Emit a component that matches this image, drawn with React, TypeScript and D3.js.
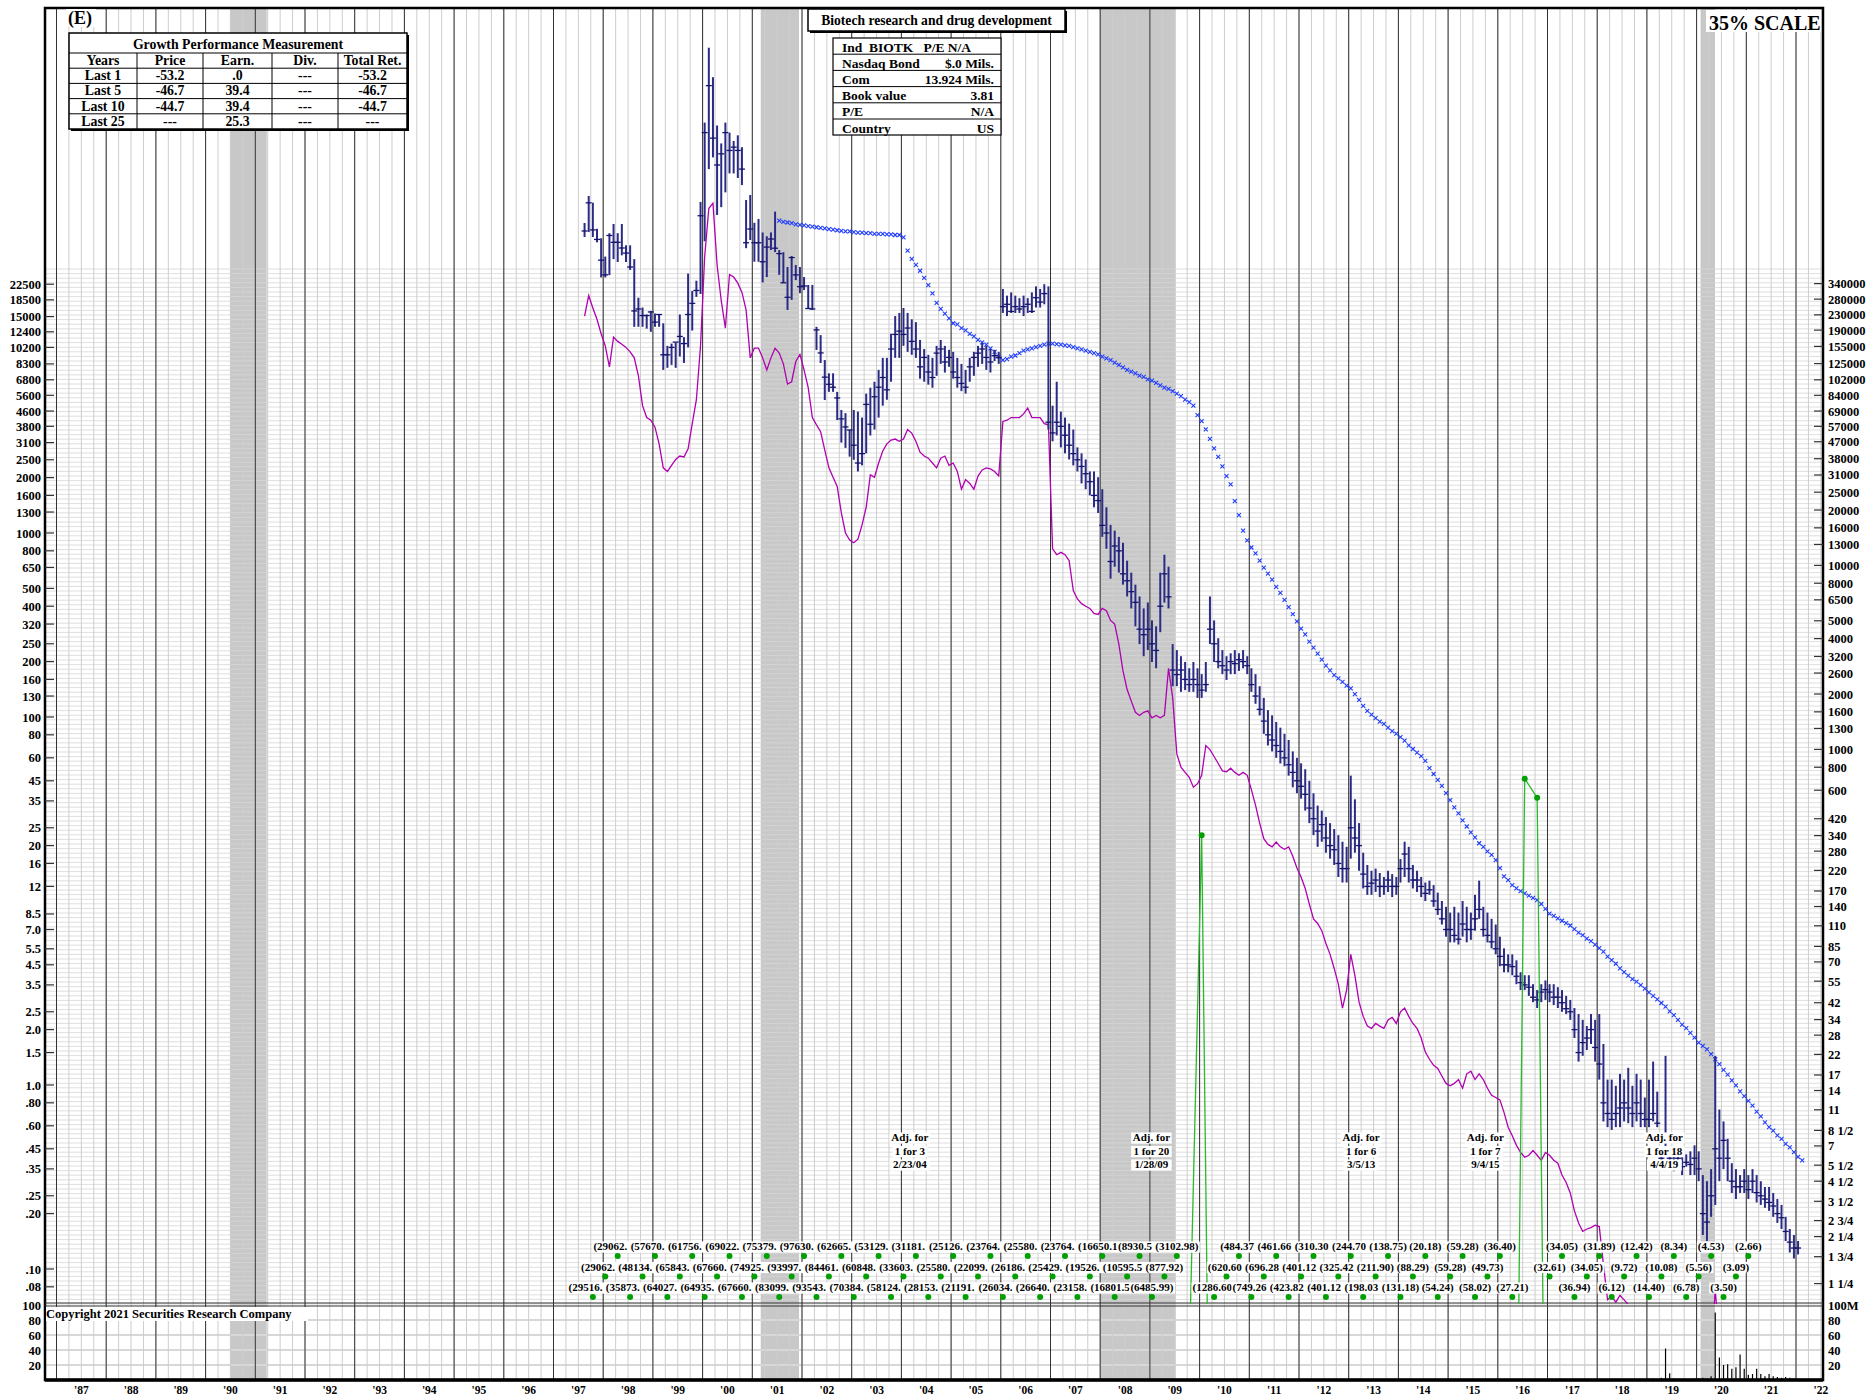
import * as d3 from "d3";

const W = 1870;
const H = 1396;
const FONT = "'Liberation Serif','Times New Roman',Times,serif";

// ---------- axis / label data ----------
const yearLabels = ["'87", "'88", "'89", "'90", "'91", "'92", "'93", "'94", "'95", "'96", "'97", "'98", "'99", "'00", "'01", "'02", "'03", "'04", "'05", "'06", "'07", "'08", "'09", "'10", "'11", "'12", "'13", "'14", "'15", "'16", "'17", "'18", "'19", "'20", "'21", "'22"];
const leftTicks = [22500, 18500, 15000, 12400, 10200, 8300, 6800, 5600, 4600, 3800, 3100, 2500, 2000, 1600, 1300, 1000, 800, 650, 500, 400, 320, 250, 200, 160, 130, 100, 80, 60, 45, 35, 25, 20, 16, 12, 8.5, 7.0, 5.5, 4.5, 3.5, 2.5, 2.0, 1.5, 1.0, 0.8, 0.6, 0.45, 0.35, 0.25, 0.2, 0.1, 0.08];
const leftTickLabels = ["22500", "18500", "15000", "12400", "10200", "8300", "6800", "5600", "4600", "3800", "3100", "2500", "2000", "1600", "1300", "1000", "800", "650", "500", "400", "320", "250", "200", "160", "130", "100", "80", "60", "45", "35", "25", "20", "16", "12", "8.5", "7.0", "5.5", "4.5", "3.5", "2.5", "2.0", "1.5", "1.0", ".80", ".60", ".45", ".35", ".25", ".20", ".10", ".08"];
const rightTicks = [340000, 280000, 230000, 190000, 155000, 125000, 102000, 84000, 69000, 57000, 47000, 38000, 31000, 25000, 20000, 16000, 13000, 10000, 8000, 6500, 5000, 4000, 3200, 2600, 2000, 1600, 1300, 1000, 800, 600, 420, 340, 280, 220, 170, 140, 110, 85, 70, 55, 42, 34, 28, 22, 17, 14, 11, 8.5, 7, 5.5, 4.5, 3.5, 2.75, 2.25, 1.75, 1.25];
const rightTickLabels = ["340000", "280000", "230000", "190000", "155000", "125000", "102000", "84000", "69000", "57000", "47000", "38000", "31000", "25000", "20000", "16000", "13000", "10000", "8000", "6500", "5000", "4000", "3200", "2600", "2000", "1600", "1300", "1000", "800", "600", "420", "340", "280", "220", "170", "140", "110", "85", "70", "55", "42", "34", "28", "22", "17", "14", "11", "8 1/2", "7", "5 1/2", "4 1/2", "3 1/2", "2 3/4", "2 1/4", "1 3/4", "1 1/4"];
const rightScaleRatio = 15;
const volTicks = [100, 80, 60, 40, 20];
const recessions = [[1990.49, 1991.23], [2001.17, 2001.94], [2007.99, 2009.52], [2020.08, 2020.37]];

// ---------- monthly price bars, Aug 1997 .. Jan 2022 ----------
const priceStart = [1997, 7];
const priceHigh = [
  48400, 67900, 62400, 45000, 40000,
  31800, 42600, 47800, 42600, 47800, 36600, 36600, 30800, 19000, 16800, 15400, 16100,
  15600, 15400, 13800, 10400, 10700, 10800, 15400, 11600, 25700, 20700, 23500, 63000,
  170000, 434000, 300000, 164000, 131000, 170000, 150000, 135000, 145000, 125000, 64500, 68700,
  48500, 50900, 43000, 41000, 43000, 55800, 34500, 33600, 27900, 32000, 28600, 27900,
  24600, 22300, 22300, 13200, 11900, 8710, 7380, 7380, 5850, 4660, 4480, 3630,
  4660, 4570, 4240, 5720, 6160, 6640, 7700, 8950, 8950, 12100, 15100, 15700,
  16700, 15700, 14500, 14000, 11200, 10000, 9300, 8950, 10400, 11200, 10400, 9900,
  9650, 8950, 8300, 7700, 8950, 9650, 10400, 10800, 10400, 10000, 9900, 9650,
  21200, 19500, 20300, 19500, 18900, 19500, 18900, 20300, 21900, 21200, 22500, 21900,
  4920, 6640, 4570, 4240, 3930, 3650, 2920, 2710, 2510, 2160, 2160, 2010,
  1730, 1380, 1107, 1030, 953, 885, 707, 609, 524, 452, 389, 419,
  335, 311, 609, 762, 656, 249, 231, 214, 199, 184, 199, 184,
  171, 199, 452, 335, 268, 231, 214, 222, 231, 222, 231, 214,
  184, 171, 147, 127, 109, 102, 94, 87.5, 81, 75, 65, 60,
  56, 52, 45, 38.5, 33, 31, 28.6, 26.5, 24.6, 22.8, 21, 19.7,
  48, 35.7, 26.5, 18.3, 15.7, 14.6, 15, 14.2, 13.5, 14.6, 14, 13.5,
  16.9, 21, 19.7, 15.7, 14.6, 13.5, 12.6, 12.9, 12.2, 11.1, 10, 9.3,
  8.65, 9.3, 8.65, 10, 9.3, 8.65, 10.8, 12.9, 9.3, 8.65, 8, 7.45,
  6.4, 5.53, 5.13, 5.13, 4.76, 4.1, 3.95, 3.95, 3.53, 3.28, 3.53, 3.7,
  3.53, 3.53, 3.4, 3.28, 3.05, 2.9, 2.62, 2.43, 2.26, 2.09, 2.43, 2.26,
  2.43, 1.67, 1.07, 1.07, 0.99, 1.15, 1.07, 1.24, 0.99, 1.15, 1.07, 0.855,
  1.07, 1.34, 0.92, 0.436, 1.44, 0.436, 0.42, 0.436, 0.405, 0.42, 0.436, 0.47,
  0.436, 0.324, 0.3, 0.349, 1.44, 0.736, 0.634, 0.51, 0.376, 0.349, 0.324, 0.349,
  0.324, 0.349, 0.324, 0.3, 0.279, 0.279, 0.259, 0.24, 0.223, 0.192, 0.165, 0.153,
  0.142,
];
const priceLow = [
  40600, 43200, 40600, 38000, 24500,
  24500, 25200, 30800, 29700, 32300, 29700, 26900, 13200, 13200, 13200, 12900, 12400,
  13200, 13200, 7700, 7900, 8200, 7900, 9100, 8400, 10200, 12600, 19200, 19900,
  38500, 95000, 110000, 53500, 59000, 71000, 90000, 90000, 85000, 77800, 35300, 39100,
  29800, 29800, 23000, 24600, 34500, 33600, 25300, 22900, 16300, 18500, 23700, 20100,
  20900, 16600, 16300, 9880, 8390, 5280, 5850, 5850, 4110, 3100, 2900, 2600,
  2500, 2160, 2330, 2710, 3390, 3650, 4240, 4920, 5300, 6640, 8950, 8950,
  10400, 9650, 9300, 8950, 6900, 6640, 6400, 6160, 7150, 8300, 7450, 8000,
  6900, 6160, 5900, 5720, 6640, 7150, 8000, 8300, 7700, 7450, 8600, 8300,
  15700, 15100, 15700, 15700, 15700, 15100, 15700, 15700, 16800, 16800, 17500, 3650,
  3150, 3390, 2920, 2710, 2510, 2330, 2160, 1860, 1730, 1600, 1380, 1285,
  953, 821, 565, 656, 609, 524, 452, 389, 311, 249, 214, 231,
  199, 184, 289, 419, 389, 147, 147, 137, 140, 137, 137, 127,
  127, 137, 249, 199, 184, 171, 159, 171, 171, 178, 184, 171,
  137, 118, 102, 81, 70, 65, 60, 55.9, 54, 48, 41.5, 38.5,
  36, 31, 26.5, 22.8, 19.7, 21, 18.3, 17, 15.7, 13.5, 12.6, 12.6,
  17, 18.3, 14.6, 11.7, 10.8, 10.8, 11.2, 10.5, 10.8, 11.2, 10.5, 10.8,
  12.6, 13.5, 12.6, 11.7, 11.2, 10.5, 10, 10.8, 9.3, 8.4, 7.45, 6.4,
  5.96, 5.96, 5.8, 6.4, 5.96, 6.15, 6.9, 8, 6.4, 5.96, 5.53, 5.13,
  4.42, 4.1, 4.1, 3.95, 3.53, 3.28, 3.28, 3.05, 2.82, 2.62, 2.82, 2.9,
  2.82, 2.72, 2.62, 2.5, 2.43, 2.26, 1.8, 1.34, 1.44, 1.55, 1.67, 1.34,
  1.07, 0.634, 0.59, 0.57, 0.59, 0.59, 0.634, 0.62, 0.59, 0.634, 0.59, 0.59,
  0.59, 0.634, 0.59, 0.376, 0.436, 0.349, 0.34, 0.349, 0.324, 0.36, 0.324, 0.324,
  0.3, 0.153, 0.142, 0.192, 0.223, 0.3, 0.349, 0.3, 0.259, 0.24, 0.259, 0.259,
  0.24, 0.259, 0.23, 0.223, 0.215, 0.207, 0.192, 0.178, 0.165, 0.142, 0.123, 0.114,
  0.12,
];
const priceClose = [
  43800, 62300, 44400, 39400, 30400,
  25300, 41400, 38000, 38000, 35400, 33200, 27900, 16100, 16500, 15200, 15200, 15900,
  14000, 15400, 9300, 9300, 10200, 10900, 11700, 10700, 15400, 17700, 20800, 53000,
  150000, 270000, 140000, 100000, 115000, 150000, 120000, 125000, 120000, 95000, 37800, 44900,
  37800, 37800, 29800, 35800, 39600, 35300, 33000, 22900, 19100, 31400, 25300, 21800,
  22000, 16600, 16500, 12700, 9520, 7030, 6430, 6200, 5420, 4170, 3770, 3630,
  3000, 2400, 2700, 5000, 3900, 5500, 6200, 7000, 6000, 10000, 12000, 12500,
  12000, 13000, 11000, 10000, 8000, 9000, 7500, 7000, 9500, 10000, 8500, 9000,
  7500, 7000, 6500, 6200, 8000, 9000, 9500, 10000, 9000, 8500, 9200, 9000,
  17000, 17500, 16000, 17000, 16500, 17000, 17500, 16000, 19000, 18000, 20000, 4000,
  3500, 4000, 3800, 3400, 3000, 2700, 2500, 2300, 2100, 1900, 1600, 1500,
  1100, 1000, 700, 850, 800, 600, 550, 480, 420, 300, 280, 300,
  250, 230, 400, 600, 450, 180, 170, 180, 160, 150, 160, 150,
  140, 150, 300, 250, 200, 190, 180, 200, 195, 205, 200, 190,
  150, 130, 110, 95, 80, 75, 70, 65, 60, 55, 50, 45,
  42, 38, 32, 28, 24, 26, 22, 20, 19, 16, 15, 15,
  25, 22, 20, 14, 12, 12.5, 13, 12, 12, 13, 12, 12,
  15, 18, 15, 13, 13, 12, 11, 11.5, 10, 9, 8, 7,
  7, 6.5, 6.2, 7.5, 7, 7, 8, 9, 7, 6.5, 6, 5.5,
  5, 4.5, 4.5, 4.4, 3.9, 3.6, 3.5, 3.4, 3, 2.9, 3.2, 3.3,
  3.2, 3, 3, 2.8, 2.6, 2.5, 2, 1.5, 1.7, 1.8, 2, 1.6,
  1.3, 0.8, 0.7, 0.65, 0.7, 0.75, 0.8, 0.75, 0.7, 0.8, 0.7, 0.65,
  0.65, 0.7, 0.62, 0.4, 0.5, 0.4, 0.38, 0.4, 0.36, 0.38, 0.37, 0.4,
  0.35, 0.2, 0.18, 0.25, 0.45, 0.4, 0.5, 0.4, 0.3, 0.28, 0.28, 0.3,
  0.27, 0.3, 0.26, 0.25, 0.24, 0.23, 0.22, 0.2, 0.19, 0.16, 0.14, 0.13,
  0.13,
];

// ---------- relative strength (magenta), monthly from Aug 1997 ----------
const rsStart = [1997, 7];
const relStrength = [
  15100, 19500, 16700, 14500, 12100,
  10400, 8000, 11600, 11000, 10600, 10200, 9650, 8950, 7150, 4920, 4240, 4100,
  3760, 3050, 2260, 2160, 2330, 2510, 2620, 2590, 2870, 3930, 5300, 10400,
  31800, 58000, 62000, 28600, 18300, 13000, 25400, 24600, 22800, 20300, 16300, 8950,
  10100, 10100, 8950, 7700, 8950, 10100, 9500, 8300, 6450, 6640, 8550, 9350,
  7700, 6160, 4240, 3870, 3550, 2820, 2260, 2010, 1790, 1285, 1000, 915,
  885, 925, 1107, 1380, 2070, 2010, 2400, 2790, 3050, 3200, 3240, 3150,
  3240, 3650, 3490, 3150, 2750, 2620, 2550, 2400, 2260, 2550, 2620, 2330,
  2400, 2160, 1730, 1950, 1860, 1730, 2040, 2200, 2260, 2230, 2160, 2040,
  4040, 4100, 4240, 4240, 4240, 4440, 4780, 4240, 4240, 4240, 3930, 3870,
  821, 762, 785, 762, 707, 486, 438, 413, 400, 389, 366, 361,
  389, 378, 335, 320, 249, 178, 141, 122, 106, 102, 106, 108,
  99, 102, 99, 102, 184, 127, 63, 53.4, 50, 47, 41.5, 43.4,
  48.2, 70, 66.5, 61, 55.9, 51, 50.4, 52.7, 50, 48.2, 50, 48.2,
  40.3, 33.2, 26.5, 21.8, 20.3, 19.7, 20.9, 19.7, 19.1, 19.7, 17.5, 15.1,
  13.5, 11.7, 9.6, 8.0, 7.55, 6.9, 5.88, 5.13, 4.3, 3.53, 2.62, 3.28,
  5.13, 3.93, 2.82, 2.36, 2.09, 2.03, 2.16, 2.09, 2.03, 2.26, 2.33, 2.16,
  2.5, 2.62, 2.36, 2.16, 2.03, 1.8, 1.51, 1.38, 1.28, 1.23, 1.12, 1.02,
  0.99, 1.02, 1.07, 0.96, 1.15, 1.19, 1.07, 1.15, 1.07, 0.96, 0.88, 0.855,
  0.83, 0.71, 0.59, 0.53, 0.47, 0.43, 0.405, 0.415, 0.44, 0.415, 0.39, 0.43,
  0.415, 0.39, 0.376, 0.324, 0.295, 0.259, 0.207, 0.178, 0.16, 0.165, 0.168, 0.173,
  0.17, 0.106, 0.068, 0.071, 0.066, 0.072, 0.068, 0.064, 0.051, 0.041, 0.038, 0.037,
  0.037, 0.036, 0.036, 0.035, 0.036, 0.035, 0.035, 0.034, 0.034, 0.034, 0.033, 0.033,
  0.033, 0.033, 0.032, 0.034, 0.077, 0.041,
];

// ---------- blue "x" series, monthly from Jul 2001 ----------
const blueStart = [2001, 6];
const blueX = [
  49800, 49070, 48700, 48340, 47620, 47270,
  46920, 46570, 46220, 45880, 45540, 45200, 44860, 44530, 44200, 43870, 43540, 43540,
  43220, 42900, 42900, 42580, 42580, 42270, 42270, 42270, 41950, 41950, 41640, 41640,
  40410, 34290, 30900, 28680, 26620, 24330, 22250, 20040, 17790, 16510, 15550, 14650,
  13800, 13600, 13000, 12620, 12070, 11710, 11200, 10870, 10550, 10090, 9640, 9090,
  8690, 8820, 9090, 9220, 9500, 9790, 9940, 10090, 10240, 10390, 10550, 10710,
  10710, 10630, 10550, 10470, 10390, 10240, 10090, 9940, 9790, 9640, 9500, 9360,
  9090, 8890, 8690, 8430, 8190, 7950, 7710, 7540, 7380, 7160, 7050, 6840,
  6740, 6540, 6350, 6170, 6070, 5900, 5720, 5550, 5310, 5150, 4930, 4370,
  4060, 3660, 3250, 2880, 2590, 2300, 2040, 1840, 1490, 1250, 1030, 913,
  834, 774, 708, 648, 601, 558, 510, 473, 433, 396, 362, 331,
  302, 281, 257, 238, 221, 205, 190, 179, 169, 162, 155, 148,
  143, 133, 124, 115, 108, 103, 98.7, 94.4, 91.7, 87.6, 83.8, 81.3,
  77.8, 74.4, 70.1, 67.0, 64.1, 61.3, 57.7, 52.8, 49.0, 45.5, 42.2, 38.6,
  35.3, 32.3, 29.9, 27.4, 25.4, 23.6, 22.2, 20.6, 19.7, 18.6, 17.8, 16.7,
  15.1, 13.6, 13.0, 12.2, 11.7, 11.3, 11.0, 10.7, 10.4, 10.1, 9.63, 9.07,
  8.54, 8.29, 8.05, 7.81, 7.58, 7.36, 7.04, 6.73, 6.53, 6.25, 6.06, 5.80,
  5.54, 5.30, 4.99, 4.77, 4.56, 4.30, 4.11, 3.93, 3.76, 3.65, 3.49, 3.34,
  3.19, 3.05, 2.92, 2.79, 2.67, 2.51, 2.40, 2.26, 2.13, 2.04, 1.92, 1.81,
  1.70, 1.63, 1.56, 1.47, 1.38, 1.30, 1.21, 1.14, 1.06, 0.996, 0.924, 0.871,
  0.820, 0.773, 0.717, 0.676, 0.627, 0.591, 0.565, 0.532, 0.509, 0.479, 0.458, 0.432,
  0.407, 0.389,
];

// ---------- volume (millions), monthly from Jan 2018 ----------
const volStart = [2018, 0];
const volume = [
  0.5, 1, 0.5, 0.5, 1.5, 0.5, 0.5, 0.5, 0.5, 0.5, 0.5, 1,
  1, 2, 1, 3, 42, 9, 2, 1, 1, 1, 1, 2,
  2, 3, 2, 5, 90, 30, 20, 21, 15, 17, 34, 15,
  7, 8, 15, 8, 5, 8, 5, 4, 3, 4, 3, 2,
];

// ---------- quarterly earnings: negative = loss shown in parentheses, null = none ----------
const epsStart = 1997.75;
const epsValues: (number | null)[] = [
  -29516.38, -29062.16, -29062.41, -35873.52, -48134.07, -57670.23, -64027.15, -65843.29, -61756.44,
  -64935.61, -67660.12, -69022.48, -67660.12, -74925.33, -75379.71, -83099.24, -93997.46, -97630.58,
  -93543.19, -84461.37, -62665.92, -70384.71, -60848.26, -53129.64, -58124.83, -33603.55, -31181.47,
  -28153.36, -25580.21, -25126.59, -21191.84, -22099.63, -23764.32, -26034.77, -26186.45, -25580.21,
  -26640.18, -25429.67, -23764.32, -23158.94, -19526.28, -16650.1, -16801.5, -10595.5, -8930.5,
  -6485.99, -877.92, -3102.98,
  null, 22.8,
  -1286.6, -620.6, -484.37, -749.26, -696.28, -461.66, -423.82, -401.12, -310.3, -401.12, -325.42,
  -244.7, -198.03, -211.9, -138.75, -131.18, -88.29, -20.18, -54.24, -59.28, -59.28, -58.02, -49.73,
  -36.4, -27.21,
  46.2, 36.4,
  -32.61, -34.05, -36.94, -34.05, -31.89, -6.12, -9.72, -12.42, -14.4, -10.08, -8.34, -6.78, -5.56,
  -4.53, -3.5, -3.09, -2.66,
];

// ---------- text blocks ----------
const growthHeader = ["Years", "Price", "Earn.", "Div.", "Total Ret."];
const growthRows = [
  ["Last 1", "-53.2", ".0", "---", "-53.2"],
  ["Last 5", "-46.7", "39.4", "---", "-46.7"],
  ["Last 10", "-44.7", "39.4", "---", "-44.7"],
  ["Last 25", "---", "25.3", "---", "---"],
];
const infoRows = [
  ["Ind  BIOTK   P/E N/A", ""],
  ["Nasdaq Bond", "$.0 Mils."],
  ["Com", "13.924 Mils."],
  ["Book value", "3.81"],
  ["P/E", "N/A"],
  ["Country", "US"],
];
const splitNotes = [
  { date: 2004.17, lines: ["Adj. for", "1 for 3", "2/23/04"] },
  { date: 2009.03, lines: ["Adj. for", "1 for 20", "1/28/09"] },
  { date: 2013.25, lines: ["Adj. for", "1 for 6", "3/5/13"] },
  { date: 2015.75, lines: ["Adj. for", "1 for 7", "9/4/15"] },
  { date: 2019.35, lines: ["Adj. for", "1 for 18", "4/4/19"] },
];

// ---------- geometry ----------
const L = 45, R = 1823, T = 8, PB = 1304, VB = 1380;
const x = d3.scaleLinear().domain([1987, 2022]).range([56.5, 1796]);
const y = d3.scaleLog().domain([1, 100000]).range([1085, 165]);
const yv = d3.scaleLinear().domain([0, 100]).range([VB, 1305]);
const monthDate = (start: number[], i: number) => start[0] + (start[1] + i + 0.5) / 12;

// bold Times advance widths (em)
const charW = (c: string) => ("()".includes(c) ? 0.333 : c === "." ? 0.25 : c === " " ? 0.25 : 0.5);
const textW = (s: string, size: number) => s.split("").reduce((a, c) => a + charW(c), 0) * size;

function TextBox({ x0, y0, text, size = 11 }: any) {
  const w = textW(text, size) + 2;
  return (
    <g>
      <rect x={x0 - w / 2} y={y0 - size * 0.78} width={w} height={size * 1.02} fill="#fff" />
      <text x={x0} y={y0} textAnchor="middle" fontSize={size} fontWeight="bold" fontFamily={FONT}>{text}</text>
    </g>
  );
}

export default function App() {
  const gridTop = 265;
  const hLines: number[] = [];
  for (let v = Math.log10(y.invert(PB)); v <= Math.log10(y.invert(gridTop)); v += 0.025) hLines.push(y(Math.pow(10, v)));

  const quarters: number[] = [];
  for (let q = 1987; q <= 2022.5; q += 0.25) quarters.push(q);
  const years = d3.range(1987, 2023);

  const rsLine = d3.line<number>().x((_, i) => x(monthDate(rsStart, i))).y((d) => y(d))(relStrength) || "";

  // earnings: losses sit far below the panel, so the joining segments show as near-vertical lines
  const epsPts = epsValues
    .map((v, i) => ({ v, q: epsStart + i * 0.25 }))
    .filter((d) => d.v !== null) as { v: number; q: number }[];
  const farBelow = 1883;
  const ex = (q: number) => x(q + 1 / 24);
  const epsLine = d3.line<{ v: number; q: number }>()
    .x((d) => ex(d.q))
    .y((d) => (d.v > 0 ? y(d.v) : farBelow))(epsPts) || "";
  const losses = epsPts.filter((d) => d.v < 0);
  const gains = epsPts.filter((d) => d.v > 0);
  const rowY = [1246, 1266.5, 1287];
  const labSize = 11;
  const lossLabels = losses.map((d, i) => {
    const row = [2, 1, 0][i % 3];
    const text = `(${Math.abs(d.v).toFixed(2)})`;
    const w = textW(text, labSize);
    return { row, text, w, start: ex(d.q) - w / 2, q: d.q, shown: text, boxW: w + 1.5 };
  });
  // each label is cut where the next label of the same row begins
  lossLabels.forEach((lab, i) => {
    const next = lossLabels.slice(i + 1).find((o) => o.row === lab.row);
    if (next && next.start < lab.start + lab.w) {
      const room = next.start - lab.start;
      let shown = lab.text;
      while (shown.length > 1 && textW(shown, labSize) > room - 0.5) shown = shown.slice(0, -1);
      lab.shown = shown;
      lab.boxW = room;
    }
  });

  return (
    <svg width={W} height={H} style={{ position: "absolute", left: 0, top: 0, background: "#fff" }} fontFamily={FONT}>
      <defs>
        <clipPath id="pc"><rect x={L} y={T} width={R - L} height={PB - T} /></clipPath>
      </defs>
      <rect width={W} height={H} fill="#fff" />

      {/* recession shading */}
      {recessions.map(([a, b], i) => (
        <rect key={i} x={x(a)} y={T} width={x(b) - x(a)} height={VB - T} fill="#c8c8c8" />
      ))}

      {/* price grid */}
      {hLines.map((yy, i) => (
        <line key={i} x1={L} x2={R} y1={yy} y2={yy} stroke="#d6d6d6" strokeWidth={0.8} />
      ))}
      {/* volume grid */}
      {[20, 40, 60, 80].map((v) => (
        <line key={v} x1={L} x2={R} y1={yv(v)} y2={yv(v)} stroke="#d8d8d8" strokeWidth={2} />
      ))}
      {quarters.map((q, i) => (
        <line key={i} x1={x(q)} x2={x(q)} y1={T} y2={VB} stroke="#cdcdcd" strokeWidth={1} />
      ))}
      {years.map((yr) => (
        <line key={yr} x1={x(yr)} x2={x(yr)} y1={T} y2={VB} stroke="#333" strokeWidth={1} />
      ))}

      {/* frame */}
      <rect x={L} y={T} width={R - L} height={VB - T} fill="none" stroke="#000" strokeWidth={2.5} />
      <line x1={L} x2={R} y1={PB - 1} y2={PB - 1} stroke="#333" strokeWidth={1.2} />
      <line x1={L} x2={R} y1={PB + 2} y2={PB + 2} stroke="#333" strokeWidth={1.2} />
      <line x1={L} x2={R} y1={VB} y2={VB} stroke="#000" strokeWidth={3.5} />

      {/* axis ticks and labels */}
      {leftTicks.map((v, i) => (
        <g key={i}>
          <line x1={L} x2={L + 9} y1={y(v)} y2={y(v)} stroke="#333" strokeWidth={1.2} />
          <text x={41} y={y(v) + 4.5} textAnchor="end" fontSize={12.5} fontWeight="bold">{leftTickLabels[i]}</text>
        </g>
      ))}
      {rightTicks.map((v, i) => (
        <g key={i}>
          <line x1={R - 9} x2={R} y1={y(v / rightScaleRatio)} y2={y(v / rightScaleRatio)} stroke="#333" strokeWidth={1.2} />
          <text x={1828} y={y(v / rightScaleRatio) + 4.5} fontSize={12.5} fontWeight="bold">{rightTickLabels[i]}</text>
        </g>
      ))}
      {volTicks.map((v) => (
        <g key={v}>
          <text x={41} y={yv(v) + 4.5} textAnchor="end" fontSize={12.5} fontWeight="bold">{v}</text>
          <text x={1828} y={yv(v) + 4.5} fontSize={12.5} fontWeight="bold">{v === 100 ? "100M" : v}</text>
        </g>
      ))}
      {yearLabels.map((lab, i) => (
        <text key={i} x={x(1987 + i + 0.5)} y={1394} textAnchor="middle" fontSize={11.5} fontWeight="bold">{lab}</text>
      ))}

      {/* data */}
      <g clipPath="url(#pc)">
        <path d={rsLine} fill="none" stroke="#b000b0" strokeWidth={1.3} />
        {blueX.map((v, i) => {
          const cx = x(monthDate(blueStart, i));
          const cy = y(v);
          return <path key={i} d={`M${cx - 2},${cy - 2}L${cx + 2},${cy + 2}M${cx - 2},${cy + 2}L${cx + 2},${cy - 2}`} stroke="#1f3cff" strokeWidth={1.1} />;
        })}
        {priceHigh.map((h, i) => {
          const cx = x(monthDate(priceStart, i));
          return (
            <g key={i}>
              <line x1={cx} x2={cx} y1={y(h)} y2={y(priceLow[i])} stroke="#2b2b86" strokeWidth={2} />
              <line x1={cx - 3} x2={cx + 3} y1={y(priceClose[i])} y2={y(priceClose[i])} stroke="#14146e" strokeWidth={1.3} />
            </g>
          );
        })}
        <path d={epsLine} fill="none" stroke="#2cb82c" strokeWidth={1.3} />
        {gains.map((d, i) => (
          <circle key={i} cx={ex(d.q)} cy={y(d.v)} r={3} fill="#00a000" />
        ))}
      </g>

      {/* volume bars */}
      {volume.map((v, i) => {
        const cx = x(monthDate(volStart, i));
        return <line key={i} x1={cx} x2={cx} y1={yv(0)} y2={yv(v)} stroke="#000" strokeWidth={1.2} />;
      })}

      {/* loss labels and dots */}
      {lossLabels.map((lab, i) => (
        <g key={i}>
          <rect x={lab.start - 1} y={rowY[lab.row] + 4 - labSize * 0.78} width={lab.boxW + 1} height={labSize * 1.02} fill="#fff" />
          <text x={lab.start} y={rowY[lab.row] + 4} fontSize={labSize} fontWeight="bold">{lab.shown}</text>
        </g>
      ))}
      {lossLabels.map((lab, i) => (
        <circle key={i} cx={ex(lab.q)} cy={rowY[lab.row] + 10} r={3} fill="#00a000" />
      ))}

      {/* split notes */}
      {splitNotes.map((s, i) => (
        <g key={i}>
          {s.lines.map((t, j) => (
            <TextBox key={j} x0={x(s.date)} y0={1141 + j * 13.5} text={t} size={11} />
          ))}
        </g>
      ))}

      {/* growth table */}
      <g>
        <rect x={71} y={35} width={338} height={96} fill="#000" />
        <rect x={69} y={33} width={338} height={96} fill="#fff" stroke="#000" strokeWidth={1.5} />
        <text x={238} y={48.5} textAnchor="middle" fontSize={13.8} fontWeight="bold">Growth Performance Measurement</text>
        {[53, 68.2, 83.4, 98.6, 113.8].map((yy, i) => (
          <line key={i} x1={69} x2={407} y1={yy} y2={yy} stroke="#000" strokeWidth={1} />
        ))}
        {[137, 203, 272, 338].map((xx, i) => (
          <line key={i} x1={xx} x2={xx} y1={53} y2={129} stroke="#000" strokeWidth={1} />
        ))}
        {[growthHeader, ...growthRows].map((row, r) =>
          row.map((cell, c) => (
            <text key={`${r}-${c}`} x={[103, 170, 237.5, 305, 372.5][c]} y={65 + r * 15.2} textAnchor="middle" fontSize={13.8} fontWeight="bold">{cell}</text>
          ))
        )}
      </g>

      {/* industry title */}
      <rect x={810} y={11} width={257} height={22} fill="#000" />
      <rect x={808} y={9} width={257} height={22} fill="#fff" stroke="#000" strokeWidth={1.5} />
      <text x={936.5} y={25} textAnchor="middle" fontSize={13.6} fontWeight="bold">Biotech research and drug development</text>

      {/* info box */}
      <rect x={833} y={38} width={168} height={97} fill="#fff" stroke="#000" strokeWidth={1.2} />
      {infoRows.map((row, i) => (
        <g key={i}>
          {i > 0 && <line x1={833} x2={1001} y1={38 + i * 16.2} y2={38 + i * 16.2} stroke="#000" strokeWidth={1} />}
          <text x={842} y={51.5 + i * 16.2} fontSize={13.5} fontWeight="bold" style={{ whiteSpace: "pre" }}>{row[0]}</text>
          <text x={994} y={51.5 + i * 16.2} textAnchor="end" fontSize={13.5} fontWeight="bold">{row[1]}</text>
        </g>
      ))}

      {/* corner marks */}
      <rect x={66} y={9} width={30} height={18} fill="#fff" />
      <text x={68} y={24} fontSize={18} fontWeight="bold">(E)</text>
      <rect x={1706} y={10} width={115} height={22} fill="#fff" />
      <text x={1709} y={30} fontSize={20} fontWeight="bold">35% SCALE</text>
      <rect x={46} y={1307} width={262} height={14} fill="#fff" />
      <text x={46} y={1318} fontSize={12.5} fontWeight="bold">Copyright 2021 Securities Research Company</text>
    </svg>
  );
}
